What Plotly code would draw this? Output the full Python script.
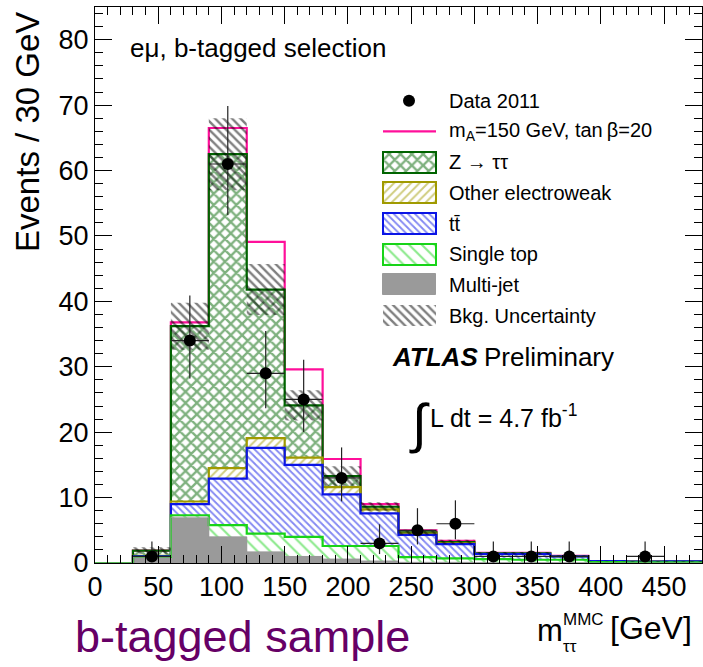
import plotly.graph_objects as go

# ---------------- data ----------------
bin_low = [0, 30, 60, 90, 120, 150, 180, 210, 240, 270, 300, 330, 360, 390, 420, 450]
bin_width = 30

multijet = [0, 0.9, 7.0, 4.0, 1.7, 1.0, 0.6, 0.3, 0.1, 0.1, 0.05, 0.05, 0.05, 0.0, 0.0, 0.0]
single_top = [0, 0.05, 0.3, 1.8, 2.8, 3.0, 2.0, 2.3, 0.8, 0.6, 0.55, 0.45, 0.45, 0.15, 0.1, 0.1]
ttbar = [0, 0.1, 1.7, 7.1, 13.1, 11.0, 7.9, 5.0, 3.4, 2.2, 0.8, 0.9, 0.5, 0.15, 0.1, 0.15]
other_ew = [0, 0.05, 0.4, 1.6, 1.5, 1.1, 1.1, 0.6, 0.2, 0.1, 0.05, 0.05, 0.05, 0.0, 0.0, 0.0]
ztautau = [0, 0.8, 26.8, 48.0, 22.7, 8.0, 1.7, 0.4, 0.2, 0.2, 0.05, 0.05, 0.0, 0.0, 0.0, 0.0]
signal = [0, 0.0, 0.6, 4.0, 7.3, 5.5, 2.6, 0.4, 0.3, 0.2, 0.05, 0.05, 0.05, 0.0, 0.0, 0.0]
bkg_unc = [0, 0.5, 3.6, 5.5, 3.9, 2.3, 1.5, 0.7, 0.4, 0.35, 0.2, 0.2, 0.15, 0.05, 0.05, 0.05]

data = [None, 1, 34, 61, 29, 25, 13, 3, 5, 6, 1, 1, 1, None, 1, None]
data_err_up = [0, 2.30, 6.90, 8.86, 6.45, 6.07, 4.67, 2.92, 3.38, 3.58, 2.30, 2.30, 2.30, 0, 2.30, 0]
data_err_dn = [0, 0.83, 5.80, 7.78, 5.35, 4.97, 3.57, 1.63, 2.16, 2.38, 0.83, 0.83, 0.83, 0, 0.83, 0]

y_ticks = [0, 10, 20, 30, 40, 50, 60, 70, 80]
x_ticks = [0, 50, 100, 150, 200, 250, 300, 350, 400, 450]

legend_labels = ["Data 2011", "m<sub>A</sub>=150 GeV, tan\u2009\u03b2=20", "Z \u2192 \u03c4\u03c4",
                 "Other electroweak", "tt\u0304", "Single top", "Multi-jet", "Bkg. Uncertainty"]

# ---------------- styles ----------------
FONT = "Liberation Sans, Arial, Helvetica, sans-serif"
C_Z = "#006400"
C_EW = "#a09a00"
C_TT = "#0a14e6"
C_ST = "#18d418"
C_MJ = "#9a9a9a"
C_SIG = "#ff0f9a"

P_Z = dict(shape="x", fgcolor=C_Z, bgcolor="white", size=8, solidity=0.5)
P_EW = dict(shape="/", fgcolor=C_EW, bgcolor="white", size=6, solidity=0.32)
P_TT = dict(shape="\\", fgcolor=C_TT, bgcolor="white", size=5, solidity=0.38)
P_ST = dict(shape="\\", fgcolor=C_ST, bgcolor="white", size=9, solidity=0.24)
P_UNC = dict(shape="\\", fgcolor="black", bgcolor="rgba(0,0,0,0)", size=6, solidity=0.4)

centers = [b + bin_width / 2 for b in bin_low]
edges = bin_low + [bin_low[-1] + bin_width]

def cumsum_layers(*layers):
    out, run = [], [0.0] * len(layers[0])
    for lay in layers:
        run = [r + v for r, v in zip(run, lay)]
        out.append(run)
    return out

c_mj, c_st, c_tt, c_ew, c_z, c_sig = cumsum_layers(multijet, single_top, ttbar, other_ew, ztautau, signal)
bases = [[0.0] * len(bin_low), c_mj, c_st, c_tt, c_ew]

fig = go.Figure()

layers = [
    (multijet, bases[0], dict(color=C_MJ)),
    (single_top, bases[1], dict(color="white", pattern=P_ST)),
    (ttbar, bases[2], dict(color="white", pattern=P_TT)),
    (other_ew, bases[3], dict(color="white", pattern=P_EW)),
    (ztautau, bases[4], dict(color="white", pattern=P_Z)),
]
for vals, base, mk in layers:
    mk = dict(mk)
    mk["line"] = dict(width=0)
    fig.add_trace(go.Bar(x=centers, y=vals, base=base, width=bin_width, marker=mk,
                         showlegend=False, hoverinfo="skip"))

def step(vals):
    return list(vals) + [vals[-1]]

# outlines, top layer first so lower layers overwrite
for cum, col, w in [(c_sig, C_SIG, 2.2), (c_z, C_Z, 2.2), (c_ew, C_EW, 2.2), (c_tt, C_TT, 2.2), (c_st, C_ST, 2.2), (c_mj, C_MJ, 1)]:
    fig.add_trace(go.Scatter(x=edges, y=step(cum), mode="lines", line=dict(color=col, width=w, shape="hv"),
                             showlegend=False, hoverinfo="skip"))

# background uncertainty band
unc_lo = [t - u for t, u in zip(c_z, bkg_unc)]
unc_hi = [t + u for t, u in zip(c_z, bkg_unc)]
fig.add_trace(go.Scatter(x=edges, y=step(unc_lo), mode="lines", line=dict(width=0, shape="hv"),
                         showlegend=False, hoverinfo="skip"))
fig.add_trace(go.Scatter(x=edges, y=step(unc_hi), mode="lines", line=dict(width=0, shape="hv"),
                         fill="tonexty", fillcolor="rgba(0,0,0,0)", fillpattern=P_UNC,
                         showlegend=False, hoverinfo="skip"))

# data points
fig.add_trace(go.Scatter(
    x=centers, y=data, mode="markers",
    marker=dict(color="black", size=12, symbol="circle"),
    error_y=dict(type="data", symmetric=False, array=data_err_up, arrayminus=data_err_dn,
                 color="#222222", thickness=1.2, width=0),
    error_x=dict(type="constant", value=bin_width / 2, color="#222222", thickness=1.2, width=0),
    showlegend=False, hoverinfo="skip"))

# ---------------- legend drawn in a pixel-coordinate overlay axis ----------------
L, R, T, B = 95, 702, 7, 563
row_y = [100.7 + 30.7 * i for i in range(len(legend_labels))]
sw_x0, sw_x1 = 383, 436
sw_c, sw_w, sw_h = (sw_x0 + sw_x1) / 2, sw_x1 - sw_x0, 21

fig.add_trace(go.Scatter(x=[409], y=[-row_y[0]], mode="markers", marker=dict(color="black", size=12),
                         xaxis="x2", yaxis="y2", showlegend=False, hoverinfo="skip"))
fig.add_trace(go.Scatter(x=[sw_x0, sw_x1], y=[-row_y[1], -row_y[1]], mode="lines", line=dict(color=C_SIG, width=2.2),
                         xaxis="x2", yaxis="y2", showlegend=False, hoverinfo="skip"))
swatches = [
    (2, dict(color="white", pattern=P_Z, line=dict(color=C_Z, width=2))),
    (3, dict(color="white", pattern=P_EW, line=dict(color=C_EW, width=2))),
    (4, dict(color="white", pattern=P_TT, line=dict(color=C_TT, width=2))),
    (5, dict(color="white", pattern=P_ST, line=dict(color=C_ST, width=2))),
    (6, dict(color=C_MJ, line=dict(color=C_MJ, width=1))),
    (7, dict(color="rgba(0,0,0,0)", pattern=P_UNC, line=dict(width=0))),
]
for i, mk in swatches:
    fig.add_trace(go.Bar(x=[sw_c], y=[sw_h], base=[-(row_y[i] + sw_h / 2)], width=[sw_w], marker=mk,
                         xaxis="x2", yaxis="y2", showlegend=False, hoverinfo="skip"))

annotations = []
for i, lab in enumerate(legend_labels):
    annotations.append(dict(x=447, y=-row_y[i], xref="x2", yref="y2", text=lab, showarrow=False,
                            xanchor="left", yanchor="middle", font=dict(size=20, color="black", family=FONT)))

# other texts
def px(xp):
    return (xp - L) / (R - L)

def py(yp):
    return (B - yp) / (B - T)

annotations += [
    dict(x=px(128), y=py(48), xref="paper", yref="paper", text="e\u03bc, b-tagged selection", showarrow=False,
         xanchor="left", yanchor="middle", font=dict(size=26, family=FONT, color="black")),
    dict(x=px(390), y=py(357), xref="paper", yref="paper", text="<b><i>ATLAS</i></b>", showarrow=False,
         xanchor="left", yanchor="middle", font=dict(size=26, family=FONT, color="black")),
    dict(x=px(482), y=py(357), xref="paper", yref="paper", text="Preliminary", showarrow=False,
         xanchor="left", yanchor="middle", font=dict(size=26, family=FONT, color="black")),
    dict(x=px(419), y=py(423), xref="paper", yref="paper", text="\u222b", showarrow=False,
         xanchor="center", yanchor="middle", font=dict(size=54, family=FONT, color="black")),
    dict(x=px(428), y=py(416), xref="paper", yref="paper", text="L dt = 4.7 fb<sup>-1</sup>", showarrow=False,
         xanchor="left", yanchor="middle", font=dict(size=25, family=FONT, color="black")),
    dict(x=px(28), y=py(10), xref="paper", yref="paper", text="Events / 30 GeV", showarrow=False, textangle=-90,
         xanchor="center", yanchor="top", font=dict(size=33, family=FONT, color="black")),
    dict(x=px(73), y=py(636), xref="paper", yref="paper", text="b-tagged sample", showarrow=False,
         xanchor="left", yanchor="middle", font=dict(size=45, family=FONT, color="#660066")),
    dict(x=px(535), y=py(630), xref="paper", yref="paper", text="m", showarrow=False,
         xanchor="left", yanchor="middle", font=dict(size=31, family=FONT, color="black")),
    dict(x=px(561), y=py(619), xref="paper", yref="paper", text="MMC", showarrow=False,
         xanchor="left", yanchor="middle", font=dict(size=17, family=FONT, color="black")),
    dict(x=px(561), y=py(646), xref="paper", yref="paper", text="\u03c4\u03c4", showarrow=False,
         xanchor="left", yanchor="middle", font=dict(size=17, family=FONT, color="black")),
    dict(x=px(608), y=py(628), xref="paper", yref="paper", text="[GeV]", showarrow=False,
         xanchor="left", yanchor="middle", font=dict(size=32, family=FONT, color="black")),
]

axis_common = dict(showline=True, linecolor="black", linewidth=1, mirror="ticks", ticks="inside",
                   ticklen=17, tickwidth=1, tickcolor="black", showgrid=False, zeroline=False,
                   tickfont=dict(size=27, family=FONT, color="black"))

fig.update_layout(
    width=703, height=667,
    margin=dict(l=L, r=703 - R, t=T, b=667 - B),
    paper_bgcolor="white", plot_bgcolor="white",
    barmode="overlay", bargap=0,
    showlegend=False,
    xaxis=dict(range=[0, 480], tickmode="array", tickvals=x_ticks, ticktext=[str(v) for v in x_ticks],
               minor=dict(dtick=10, tick0=0, ticks="inside", ticklen=8, tickcolor="black", showgrid=False),
               **axis_common),
    yaxis=dict(range=[0, 85], tickmode="array", tickvals=y_ticks, ticktext=[str(v) for v in y_ticks],
               minor=dict(dtick=2, tick0=0, ticks="inside", ticklen=8, tickcolor="black", showgrid=False),
               **axis_common),
    xaxis2=dict(range=[L, R], overlaying="x", anchor="y2", visible=False, fixedrange=True),
    yaxis2=dict(range=[-B, -T], overlaying="y", anchor="x2", visible=False, fixedrange=True),
    annotations=annotations,
)

fig.write_html("out.html")
